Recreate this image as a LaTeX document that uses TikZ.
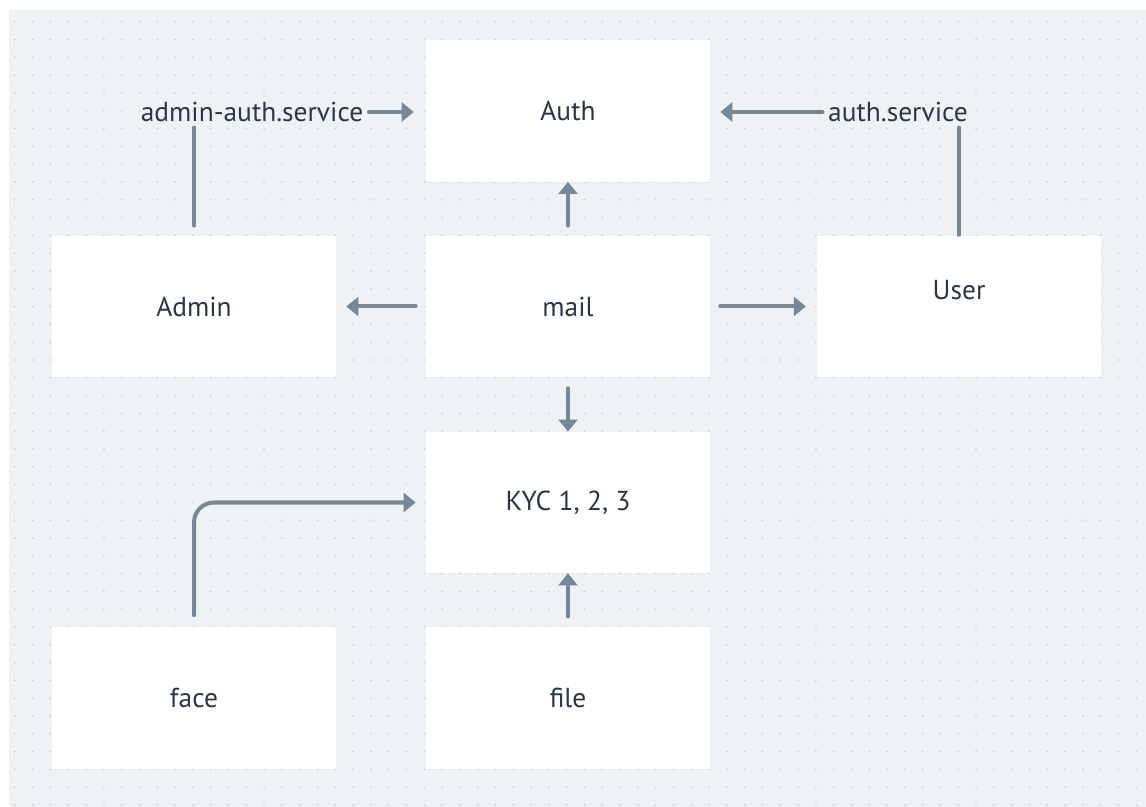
\documentclass[tikz,border=0pt]{standalone}
\usepackage{fontspec}
\setmainfont{PT Sans}
\usetikzlibrary{arrows.meta,shadows}

\definecolor{canvas}{HTML}{EFF2F5}
\definecolor{griddot}{HTML}{BFC8D2}
\definecolor{flowcol}{HTML}{778796}
\definecolor{inkcol}{HTML}{2B3744}

\tikzset{
  svcbox/.style={rectangle, fill=white, minimum width=7.1cm, minimum height=3.53cm,
    text=inkcol, font=\fontsize{19.5}{22}\selectfont,
    drop shadow={opacity=0.06, shadow xshift=0cm, shadow yshift=-0.03cm}},
  tag/.style={text=inkcol, font=\fontsize{19.5}{22}\selectfont, inner sep=1pt},
  link/.style={draw=flowcol, line width=0.1cm, line cap=round},
  flow/.style={link, -{Triangle[length=0.3cm, width=0.47cm]}},
}

\begin{document}
\begin{tikzpicture}[x=0.025cm, y=-0.025cm]
    \useasboundingbox (0,0) rectangle (1146,807);
    \fill[canvas] (9,10) rectangle (1146,807);
    % dot grid
    \foreach \i in {0,...,63}
      \foreach \j in {0,...,44}
        \fill[griddot] ({14.9+17.8*\i},{21.8+17.8*\j}) circle (0.022cm);

    \node[svcbox] (auth) at (568,111) {Auth};
    \node[svcbox] (admin) at (194,306.5) {Admin};
    \node[svcbox] (mail) at (568,306.5) {mail};
    \node[svcbox, label={[tag, yshift=0.42cm]center:User}] (user) at (959,306.5) {};
    \node[svcbox] (kyc) at (568,502.5) {KYC 1, 2, 3};
    \node[svcbox] (face) at (194,698) {face};
    \node[svcbox] (file) at (568,698) {file};

    \node[tag] (adminsvc) at (252,112) {admin-auth.service};
    \node[tag] (authsvc) at (898,112) {auth.service};

    % service links into Auth
    \draw[link, shorten <=0.25cm, shorten >=0.1cm] (admin.north) -- (admin.north |- adminsvc.south);
    \draw[flow, shorten <=0.1cm, shorten >=0.3cm] (adminsvc.east) -- (adminsvc.east -| auth.west);
    \draw[link, shorten <=0.02cm, shorten >=0.1cm] (user.north) -- (user.north |- authsvc.south);
    \draw[flow, shorten <=0.1cm, shorten >=0.25cm] (authsvc.west) -- (authsvc.west -| auth.east);

    % mail
    \draw[flow, shorten <=0.25cm] (mail.north) -- (auth.south);
    \draw[flow, shorten <=0.25cm, shorten >=0.25cm] (mail.west) -- (admin.east);
    \draw[flow, shorten <=0.25cm, shorten >=0.27cm] (mail.east) -- (user.west);
    \draw[flow, shorten <=0.27cm] (mail.south) -- (kyc.north);

    % KYC inputs
    \draw[flow, shorten <=0.27cm] (file.north) -- (kyc.south);
    \draw[flow, rounded corners=0.5cm, shorten <=0.3cm, shorten >=0.25cm]
      (face.north) |- (kyc.west);
\end{tikzpicture}
\end{document}
